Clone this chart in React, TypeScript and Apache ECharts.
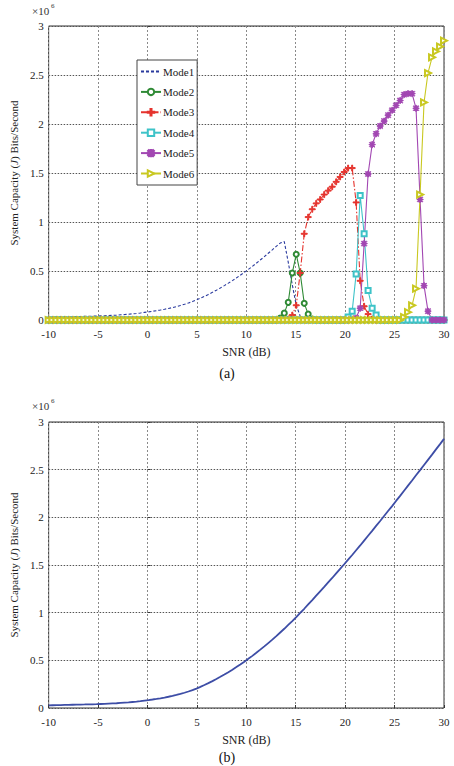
import React, { useEffect, useRef } from "react";
import * as echarts from "echarts";

// SNR sample grid (dB)
const snr = [
  -10, -9.6, -9.19, -8.79, -8.38, -7.98, -7.58, -7.17, -6.77, -6.36,
  -5.96, -5.56, -5.15, -4.75, -4.34, -3.94, -3.54, -3.13, -2.73, -2.32,
  -1.92, -1.52, -1.11, -0.71, -0.3, 0.1, 0.51, 0.91, 1.31, 1.72,
  2.12, 2.53, 2.93, 3.33, 3.74, 4.14, 4.55, 4.95, 5.35, 5.76,
  6.16, 6.57, 6.97, 7.37, 7.78, 8.18, 8.59, 8.99, 9.39, 9.8,
  10.2, 10.61, 11.01, 11.41, 11.82, 12.22, 12.63, 13.03, 13.43, 13.84,
  14.24, 14.65, 15.05, 15.45, 15.86, 16.26, 16.67, 17.07, 17.47, 17.88,
  18.28, 18.69, 19.09, 19.49, 19.9, 20.3, 20.71, 21.11, 21.52, 21.92,
  22.32, 22.73, 23.13, 23.54, 23.94, 24.34, 24.75, 25.15, 25.56, 25.96,
  26.36, 26.77, 27.17, 27.58, 27.98, 28.38, 28.79, 29.19, 29.6, 30,
];

// values in units of 1e6 bits/second
const mode1 = [
  0.028, 0.029, 0.03, 0.031, 0.032, 0.033, 0.034, 0.035, 0.036, 0.037,
  0.038, 0.039, 0.04, 0.042, 0.044, 0.046, 0.048, 0.05, 0.053, 0.056,
  0.059, 0.063, 0.067, 0.072, 0.078, 0.083, 0.089, 0.095, 0.102, 0.11,
  0.118, 0.127, 0.137, 0.148, 0.16, 0.173, 0.188, 0.204, 0.222, 0.241,
  0.261, 0.282, 0.304, 0.327, 0.351, 0.376, 0.402, 0.429, 0.457, 0.486,
  0.516, 0.547, 0.579, 0.612, 0.646, 0.681, 0.716, 0.752, 0.785, 0.8,
  0.59, 0.36, 0.15, 0.04, 0.01, 0, 0, 0, 0, 0,
  0, 0, 0, 0, 0, 0, 0, 0, 0, 0,
  0, 0, 0, 0, 0, 0, 0, 0, 0, 0,
  0, 0, 0, 0, 0, 0, 0, 0, 0, 0,
];

const mode2 = [
  0, 0, 0, 0, 0, 0, 0, 0, 0, 0,
  0, 0, 0, 0, 0, 0, 0, 0, 0, 0,
  0, 0, 0, 0, 0, 0, 0, 0, 0, 0,
  0, 0, 0, 0, 0, 0, 0, 0, 0, 0,
  0, 0, 0, 0, 0, 0, 0, 0, 0, 0,
  0, 0, 0, 0, 0, 0, 0, 0, 0.02, 0.07,
  0.18, 0.48, 0.67, 0.48, 0.17, 0.06, 0.01, 0, 0, 0,
  0, 0, 0, 0, 0, 0, 0, 0, 0, 0,
  0, 0, 0, 0, 0, 0, 0, 0, 0, 0,
  0, 0, 0, 0, 0, 0, 0, 0, 0, 0,
];

const mode3 = [
  0, 0, 0, 0, 0, 0, 0, 0, 0, 0,
  0, 0, 0, 0, 0, 0, 0, 0, 0, 0,
  0, 0, 0, 0, 0, 0, 0, 0, 0, 0,
  0, 0, 0, 0, 0, 0, 0, 0, 0, 0,
  0, 0, 0, 0, 0, 0, 0, 0, 0, 0,
  0, 0, 0, 0, 0, 0, 0, 0, 0, 0,
  0.01, 0.05, 0.15, 0.48, 0.88, 1.05, 1.13, 1.19, 1.23, 1.28,
  1.32, 1.36, 1.41, 1.46, 1.51, 1.55, 1.55, 1.2, 0.4, 0.14,
  0.06, 0.01, 0, 0, 0, 0, 0, 0, 0, 0,
  0, 0, 0, 0, 0, 0, 0, 0, 0, 0,
];

const mode4 = [
  0, 0, 0, 0, 0, 0, 0, 0, 0, 0,
  0, 0, 0, 0, 0, 0, 0, 0, 0, 0,
  0, 0, 0, 0, 0, 0, 0, 0, 0, 0,
  0, 0, 0, 0, 0, 0, 0, 0, 0, 0,
  0, 0, 0, 0, 0, 0, 0, 0, 0, 0,
  0, 0, 0, 0, 0, 0, 0, 0, 0, 0,
  0, 0, 0, 0, 0, 0, 0, 0, 0, 0,
  0, 0, 0, 0, 0, 0.03, 0.09, 0.47, 1.27, 0.88,
  0.3, 0.12, 0.05, 0, 0, 0, 0, 0, 0, 0,
  0, 0, 0, 0, 0, 0, 0, 0, 0, 0,
];

const mode5 = [
  0, 0, 0, 0, 0, 0, 0, 0, 0, 0,
  0, 0, 0, 0, 0, 0, 0, 0, 0, 0,
  0, 0, 0, 0, 0, 0, 0, 0, 0, 0,
  0, 0, 0, 0, 0, 0, 0, 0, 0, 0,
  0, 0, 0, 0, 0, 0, 0, 0, 0, 0,
  0, 0, 0, 0, 0, 0, 0, 0, 0, 0,
  0, 0, 0, 0, 0, 0, 0, 0, 0, 0,
  0, 0, 0, 0, 0, 0, 0, 0.02, 0.12, 0.78,
  1.49, 1.79, 1.9, 1.98, 2.03, 2.09, 2.14, 2.19, 2.24, 2.3,
  2.31, 2.31, 2.16, 1.23, 0.35, 0.09, 0, 0, 0, 0,
];

const mode6 = [
  0, 0, 0, 0, 0, 0, 0, 0, 0, 0,
  0, 0, 0, 0, 0, 0, 0, 0, 0, 0,
  0, 0, 0, 0, 0, 0, 0, 0, 0, 0,
  0, 0, 0, 0, 0, 0, 0, 0, 0, 0,
  0, 0, 0, 0, 0, 0, 0, 0, 0, 0,
  0, 0, 0, 0, 0, 0, 0, 0, 0, 0,
  0, 0, 0, 0, 0, 0, 0, 0, 0, 0,
  0, 0, 0, 0, 0, 0, 0, 0, 0, 0,
  0, 0, 0, 0, 0, 0, 0, 0, 0, 0.03,
  0.08, 0.15, 0.32, 1.28, 2.22, 2.52, 2.68, 2.74, 2.79, 2.85,
];

const total = [
  0.028, 0.029, 0.03, 0.031, 0.032, 0.033, 0.034, 0.035, 0.036, 0.037,
  0.038, 0.039, 0.04, 0.042, 0.044, 0.046, 0.048, 0.05, 0.053, 0.056,
  0.059, 0.063, 0.067, 0.072, 0.078, 0.083, 0.089, 0.095, 0.102, 0.11,
  0.118, 0.127, 0.137, 0.148, 0.16, 0.173, 0.188, 0.204, 0.222, 0.241,
  0.261, 0.282, 0.304, 0.327, 0.351, 0.376, 0.402, 0.429, 0.457, 0.486,
  0.516, 0.547, 0.579, 0.612, 0.646, 0.681, 0.717, 0.754, 0.792, 0.831,
  0.871, 0.912, 0.954, 0.997, 1.041, 1.086, 1.132, 1.178, 1.224, 1.27,
  1.317, 1.364, 1.412, 1.46, 1.508, 1.556, 1.605, 1.655, 1.705, 1.756,
  1.807, 1.858, 1.91, 1.962, 2.014, 2.066, 2.118, 2.172, 2.225, 2.279,
  2.333, 2.387, 2.441, 2.495, 2.549, 2.603, 2.658, 2.713, 2.768, 2.823,
];

const modeNames = ["Mode1", "Mode2", "Mode3", "Mode4", "Mode5", "Mode6"];
const modeColors = ["#2a3a9e", "#2f8a35", "#e5332d", "#3ec3c8", "#a247b2", "#c9c821"];

const FONT = "'Liberation Serif', 'DejaVu Serif', serif";
const PLUS =
  "path://M4.2,0 L5.8,0 L5.8,4.2 L10,4.2 L10,5.8 L5.8,5.8 L5.8,10 L4.2,10 L4.2,5.8 L0,5.8 L0,4.2 L4.2,4.2 Z";
const STAR =
  "path://M4.3,0 L5.7,0 L5.7,4.3 L10,4.3 L10,5.7 L5.7,5.7 L5.7,10 L4.3,10 L4.3,5.7 L0,5.7 L0,4.3 L4.3,4.3 Z M1.5,0.5 L9.5,8.5 L8.5,9.5 L0.5,1.5 Z M8.5,0.5 L9.5,1.5 L1.5,9.5 L0.5,8.5 Z";

function axisX(gridIndex: number) {
  return {
    gridIndex,
    type: "value",
    min: -10,
    max: 30,
    interval: 5,
    axisLine: { show: false },
    axisTick: { show: true, inside: true, length: 3, lineStyle: { color: "#333" } },
    axisLabel: { color: "#222", fontFamily: FONT, fontSize: 11, margin: 8 },
    splitLine: { show: true, lineStyle: { color: "#8a8a8a", type: [2, 2], width: 1 } },
    name: "SNR (dB)",
    nameLocation: "middle",
    nameGap: 26,
    nameTextStyle: { color: "#222", fontFamily: FONT, fontSize: 12 },
  };
}

function axisY(gridIndex: number, gap: number) {
  return {
    gridIndex,
    type: "value",
    min: 0,
    max: 3,
    interval: 0.5,
    axisLine: { show: false },
    axisTick: { show: true, inside: true, length: 3, lineStyle: { color: "#333" } },
    axisLabel: { color: "#222", fontFamily: FONT, fontSize: 11, margin: 5 },
    splitLine: { show: true, lineStyle: { color: "#555", type: [1.5, 1.5], width: 1 } },
    name: "System Capacity ({it|J}) Bits/Second",
    nameLocation: "middle",
    nameRotate: 90,
    nameGap: gap,
    nameTextStyle: {
      color: "#222",
      fontFamily: FONT,
      fontSize: 11,
      rich: { it: { fontStyle: "italic", fontFamily: FONT, fontSize: 11, color: "#222" } },
    },
  };
}

export default function App() {
  const ref = useRef<HTMLDivElement>(null);
  useEffect(() => {
    const chart = echarts.init(ref.current!, null, { renderer: "svg" });
    const pairs = (arr: number[]) => snr.map((x, i) => [x, arr[i]]);
    const modes = [mode1, mode2, mode3, mode4, mode5, mode6];
    const symbols = ["circle", "emptyCircle", PLUS, "emptyRect", STAR, "emptyTriangle"];
    const sizes = [0, 5, 6, 5, 6, 6];
    const lineTypes: any[] = [[3, 2], "solid", [6, 2, 1.5, 2], "solid", "solid", "solid"];

    const modeSeries = modes.map((arr, k) => ({
      name: modeNames[k],
      type: "line",
      xAxisIndex: 0,
      yAxisIndex: 0,
      data: pairs(arr),
      symbol: symbols[k],
      symbolSize: sizes[k],
      symbolRotate: k === 5 ? -90 : 0,
      showSymbol: k !== 0,
      lineStyle: { color: modeColors[k], width: 1.1, type: lineTypes[k] },
      itemStyle: { color: modeColors[k], borderColor: modeColors[k], borderWidth: 1 },
      emphasis: { disabled: true },
    }));

    const legendData = modeNames.map((n, k) =>
      k === 0 ? { name: n, itemStyle: { opacity: 0 } } : { name: n }
    );

    chart.setOption({
      animation: false,
      backgroundColor: "#fff",
      grid: [
        { left: 32, top: 26, width: 412, height: 294, show: true, borderColor: "#333", borderWidth: 1 },
        { left: 37, top: 422, width: 407, height: 286, show: true, borderColor: "#333", borderWidth: 1 },
      ],
      xAxis: [axisX(0), axisX(1)],
      yAxis: [axisY(0, 17), axisY(1, 22)],
      legend: {
        show: true,
        orient: "vertical",
        left: 137,
        top: 60,
        itemWidth: 20,
        itemHeight: 8,
        itemGap: 9.4,
        padding: [6, 3, 6, 3],
        borderColor: "#444",
        borderWidth: 1,
        backgroundColor: "#fff",
        textStyle: { fontFamily: FONT, fontSize: 11, color: "#222", padding: [0, 0, 0, -3] },
        data: legendData,
      },
      series: [
        ...modeSeries,
        {
          name: "Total",
          type: "line",
          xAxisIndex: 1,
          yAxisIndex: 1,
          data: pairs(total),
          showSymbol: false,
          symbol: "none",
          lineStyle: { color: "#3d4da6", width: 1.8 },
          itemStyle: { color: "#3d4da6" },
          emphasis: { disabled: true },
        },
      ],
      graphic: [
        { type: "text", left: 32, top: 5, style: { text: "×10", fontFamily: FONT, fontSize: 11, fill: "#333" } },
        { type: "text", left: 51, top: 2, style: { text: "6", fontFamily: FONT, fontSize: 7, fill: "#333" } },
        { type: "text", left: 32, top: 400, style: { text: "×10", fontFamily: FONT, fontSize: 11, fill: "#333" } },
        { type: "text", left: 51, top: 397, style: { text: "6", fontFamily: FONT, fontSize: 7, fill: "#333" } },
        {
          type: "text",
          x: 227,
          y: 373,
          style: { text: "(a)", fontFamily: FONT, fontSize: 14, fill: "#111", align: "center", verticalAlign: "middle" },
        },
        {
          type: "text",
          x: 227,
          y: 757,
          style: { text: "(b)", fontFamily: FONT, fontSize: 14, fill: "#111", align: "center", verticalAlign: "middle" },
        },
      ],
    });
    return () => chart.dispose();
  }, []);
  return (
    <div
      ref={ref}
      style={{ position: "fixed", left: 0, top: 0, width: 454, height: 766, background: "#fff" }}
    />
  );
}
